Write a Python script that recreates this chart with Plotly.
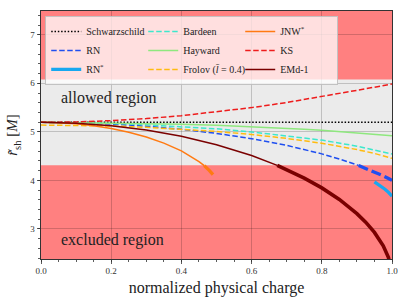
import plotly.graph_objects as go

# ---------------- data ----------------
R_MIN, R_MAX = 4.31, 6.08          # allowed shadow-radius band
X_RANGE = [0.0, 1.0]
Y_RANGE = [2.38, 7.49]

schw_x = [0.0, 1.0]
schw_r = [5.196, 5.196]

rn_x = [0, 0.1, 0.2, 0.3, 0.4, 0.5, 0.6, 0.7, 0.8, 0.85, 0.9, 0.905, 0.95, 0.975, 0.99, 1.0]
rn_r = [5.196, 5.1875, 5.1612, 5.1168, 5.0530, 4.9679, 4.8587, 4.7207, 4.5460, 4.4406,
        4.3192, 4.3060, 4.1762, 4.0934, 4.0389, 4.0]

rns_x = [0.95, 0.96, 0.97, 0.98, 0.99, 1.0]
rns_r = [3.9688, 3.9226, 3.8725, 3.8172, 3.7541, 3.6742]

bard_x = [0, 0.1, 0.25, 0.4, 0.5, 0.6, 0.75, 0.8, 0.9, 0.95, 1.0]
bard_r = [5.196, 5.191, 5.164, 5.112, 5.062, 4.998, 4.880, 4.830, 4.705, 4.630, 4.545]

hay_x = [0, 0.25, 0.4, 0.5, 0.6, 0.75, 0.8, 0.9, 0.95, 1.0]
hay_r = [5.196, 5.181, 5.159, 5.137, 5.110, 5.055, 5.033, 4.981, 4.953, 4.920]

fro_x = [0, 0.1, 0.2, 0.3, 0.4, 0.5, 0.6, 0.7, 0.8, 0.85, 0.9, 0.95, 1.0]
fro_r = [5.140, 5.135, 5.120, 5.094, 5.057, 5.008, 4.945, 4.865, 4.765, 4.705, 4.635, 4.555, 4.455]

jnw_x = [0, 0.05, 0.1, 0.15, 0.2, 0.25, 0.3, 0.35, 0.4, 0.425, 0.45, 0.465, 0.47, 0.48, 0.49]
jnw_r = [5.196, 5.1888, 5.1653, 5.1256, 5.0689, 4.9925, 4.8942, 4.7685, 4.6073, 4.5065,
         4.3878, 4.3032, 4.2719, 4.2026, 4.1203]

ks_x = [0, 0.1, 0.2, 0.3, 0.4, 0.5, 0.6, 0.7, 0.8, 0.9, 1.0]
ks_r = [5.196, 5.2048, 5.2307, 5.2735, 5.3329, 5.4083, 5.4991, 5.6045, 5.7236, 5.8558, 5.985]

emd_x = [0, 0.1, 0.2, 0.3, 0.4, 0.5, 0.6, 0.673, 0.7, 0.75, 0.8, 0.85, 0.9, 0.925, 0.95,
         0.975, 0.99, 1.0]
emd_r = [5.196, 5.1788, 5.1262, 5.0370, 4.9083, 4.7356, 4.5115, 4.3084, 4.2231, 4.0478,
         3.8454, 3.6068, 3.3152, 3.1383, 2.9271, 2.6514, 2.4085, 2.0]

x_ticks = [0.0, 0.2, 0.4, 0.6, 0.8, 1.0]
y_ticks = [3, 4, 5, 6, 7]

# ---------------- helpers ----------------
def split(xs, rs, rmin):
    """thin part (inside allowed band) and thick part (excluded)"""
    k = next(i for i, v in enumerate(rs) if v < rmin)
    return (xs[:k + 1], rs[:k + 1]), (xs[k:], rs[k:])

SERIF = "Liberation Serif, DejaVu Serif, serif"
THIN = 1.5
THICK = 3.3
DASH = "5.5px,2.5px"
DASH_THICK = "10px,4px"

fig = go.Figure()

def add(x, y, name, color, width, dash="solid", rank=0, show=True):
    fig.add_trace(go.Scatter(x=x, y=y, mode="lines", name=name,
                             line=dict(color=color, width=width, dash=dash),
                             showlegend=show, legendrank=rank, hoverinfo="skip"))

# Schwarzschild
add(schw_x, schw_r, "Schwarzschild", "black", 1.5, "1.5px,1.8px", rank=1)

# RN
(rn_a, rn_b) = split(rn_x, rn_r, R_MIN)
add(rn_a[0], rn_a[1], "RN", "#1f4ff0", THIN, DASH, rank=4)
add(rn_b[0], rn_b[1], "RN", "#1f4ff0", THICK, DASH_THICK, show=False)

# RN*
add(rns_x, rns_r, "RN<sup>*</sup>", "#18a8f0", THICK, rank=7)

# Bardeen
add(bard_x, bard_r, "Bardeen", "#3de8cc", THIN, DASH, rank=2)
# Hayward
add(hay_x, hay_r, "Hayward", "#8ee87e", THIN, rank=5)
# Frolov
add(fro_x, fro_r, "Frolov (<i>l̄</i> = 0.4)", "#ffbb10", THIN, DASH, rank=8)

# JNW*
(j_a, j_b) = split(jnw_x, jnw_r, R_MIN)
add(j_a[0], j_a[1], "JNW<sup>*</sup>", "#ff7a12", THIN, rank=3)
add(j_b[0], j_b[1], "JNW*", "#ff7a12", THICK, show=False)

# KS
add(ks_x, ks_r, "KS", "#ee1c1c", THIN, DASH, rank=6)

# EMd-1
(e_a, e_b) = split(emd_x, emd_r, R_MIN)
add(e_a[0], e_a[1], "EMd-1", "#7a0000", THIN, rank=9)
add(e_b[0], e_b[1], "EMd-1", "#7a0000", 3.6, show=False)

# allowed band
fig.add_shape(type="rect", xref="paper", x0=0, x1=1, yref="y", y0=R_MIN, y1=R_MAX,
              fillcolor="#ebebeb", line=dict(width=0), layer="below")

fig.add_annotation(text="allowed region", x=0.05, y=5.70, xref="x", yref="y",
                   xanchor="left", yanchor="middle", showarrow=False,
                   font=dict(family=SERIF, size=16, color="#222"))
fig.add_annotation(text="excluded region", x=0.05, y=2.77, xref="x", yref="y",
                   xanchor="left", yanchor="middle", showarrow=False,
                   font=dict(family=SERIF, size=16, color="#222"))

axis_common = dict(
    showline=True, linecolor="#333", linewidth=1, mirror=True,
    ticks="outside", ticklen=3.5, tickwidth=0.8, tickcolor="#333",
    showgrid=True, gridcolor="rgba(0,0,0,0.18)", gridwidth=1,
    zeroline=False, automargin=False,
    tickfont=dict(family=SERIF, size=9, color="#333"),
)

fig.update_xaxes(range=X_RANGE, tickvals=x_ticks, tickformat=".1f",
                 minor=dict(ticks="outside", ticklen=2, dtick=0.05, tick0=0,
                            tickcolor="#333", showgrid=False),
                 title=dict(text="normalized physical charge", standoff=6,
                            font=dict(family=SERIF, size=16, color="#222")),
                 **axis_common)
fig.update_yaxes(range=Y_RANGE, tickvals=y_ticks, tickformat="d",
                 minor=dict(ticks="outside", ticklen=2, dtick=0.2, tick0=0,
                            tickcolor="#333", showgrid=False),
                 title=dict(text="<i>r̃</i><sub>sh</sub> [<i>M</i>]", standoff=8,
                            font=dict(family=SERIF, size=15, color="#222")),
                 **axis_common)

fig.update_layout(
    template="none",
    width=407, height=305,
    margin=dict(l=41, r=15, t=11, b=46),
    paper_bgcolor="white",
    plot_bgcolor="#ff8080",
    showlegend=True,
    legend=dict(orientation="h", x=0.012, y=0.98, xanchor="left", yanchor="top",
                bgcolor="rgba(255,255,255,0.75)", bordercolor="rgba(190,190,190,0.9)",
                borderwidth=1, entrywidth=52, entrywidthmode="pixels",
                font=dict(family=SERIF, size=10, color="#222"),
                tracegroupgap=0),
)

fig.write_html("out.html", config={"displayModeBar": False, "staticPlot": True},
               post_script="document.body.style.margin='0px';document.body.style.overflow='hidden';")
